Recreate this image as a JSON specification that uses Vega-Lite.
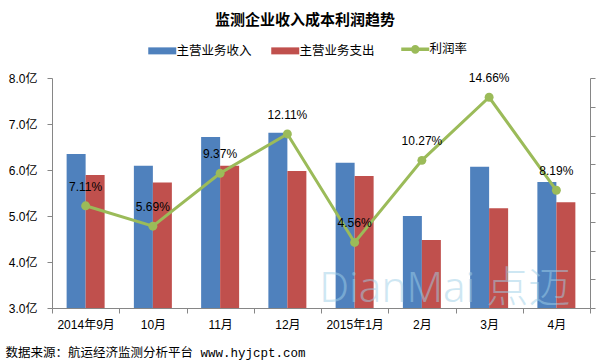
{
  "$schema": "https://vega.github.io/schema/vega-lite/v6.json",
  "width": 538,
  "height": 230,
  "autosize": {"type": "none"},
  "padding": {"left": 52, "top": 78, "right": 20, "bottom": 53},
  "background": "white",
  "config": {
    "view": {"stroke": null},
    "font": "Liberation Sans, Noto Sans CJK SC"
  },
  "title": {
    "text": "监测企业收入成本利润趋势",
    "font": "Noto Sans CJK SC",
    "fontSize": 15,
    "fontWeight": "bold",
    "color": "#000000",
    "anchor": "middle",
    "frame": "group",
    "dx": -16,
    "offset": 15
  },
  "datasets": {
    "bars": [
      {"month": "2014年9月", "series": "主营业务收入", "value": 6.35},
      {"month": "2014年9月", "series": "主营业务支出", "value": 5.89},
      {"month": "10月", "series": "主营业务收入", "value": 6.09},
      {"month": "10月", "series": "主营业务支出", "value": 5.73},
      {"month": "11月", "series": "主营业务收入", "value": 6.72},
      {"month": "11月", "series": "主营业务支出", "value": 6.09},
      {"month": "12月", "series": "主营业务收入", "value": 6.81},
      {"month": "12月", "series": "主营业务支出", "value": 5.98},
      {"month": "2015年1月", "series": "主营业务收入", "value": 6.16},
      {"month": "2015年1月", "series": "主营业务支出", "value": 5.87},
      {"month": "2月", "series": "主营业务收入", "value": 5.0},
      {"month": "2月", "series": "主营业务支出", "value": 4.48},
      {"month": "3月", "series": "主营业务收入", "value": 6.07},
      {"month": "3月", "series": "主营业务支出", "value": 5.17},
      {"month": "4月", "series": "主营业务收入", "value": 5.74},
      {"month": "4月", "series": "主营业务支出", "value": 5.3}
    ],
    "rate": [
      {"month": "2014年9月", "rate": 7.11, "label": "7.11%"},
      {"month": "10月", "rate": 5.69, "label": "5.69%"},
      {"month": "11月", "rate": 9.37, "label": "9.37%"},
      {"month": "12月", "rate": 12.11, "label": "12.11%"},
      {"month": "2015年1月", "rate": 4.56, "label": "4.56%"},
      {"month": "2月", "rate": 10.27, "label": "10.27%"},
      {"month": "3月", "rate": 14.66, "label": "14.66%"},
      {"month": "4月", "rate": 8.19, "label": "8.19%"}
    ]
  },
  "encoding": {
    "x": {
      "field": "month",
      "type": "nominal",
      "scale": {
        "domain": ["2014年9月", "10月", "11月", "12月", "2015年1月", "2月", "3月", "4月"],
        "paddingInner": 0,
        "paddingOuter": 0
      },
      "axis": {
        "title": "数据来源：航运经济监测分析平台 www.hyjcpt.com",
        "titleFont": "Liberation Mono, Noto Sans CJK SC",
        "titleFontSize": 12.5,
        "titleFontWeight": "normal",
        "titleColor": "#000000",
        "titleAnchor": "start",
        "titleAlign": "left",
        "titleBaseline": "middle",
        "titleX": -47,
        "titleY": 44,
        "labelAngle": 0,
        "labelFont": "Liberation Sans, Noto Sans CJK SC",
        "labelFontSize": 12,
        "labelColor": "#000000",
        "labelPadding": 6,
        "tickBand": "extent",
        "tickSize": 5,
        "tickColor": "#868686",
        "domainColor": "#868686",
        "grid": false
      }
    }
  },
  "layer": [
    {
      "layer": [
        {
          "data": {"name": "bars"},
          "mark": {"type": "bar"},
          "encoding": {
            "xOffset": {
              "field": "series",
              "type": "nominal",
              "sort": ["主营业务收入", "主营业务支出"],
              "scale": {"paddingInner": 0, "paddingOuter": 0.77}
            },
            "y": {
              "field": "value",
              "type": "quantitative",
              "scale": {"domain": [3, 8], "zero": false, "nice": false},
              "axis": {
                "title": null,
                "values": [3, 4, 5, 6, 7, 8],
                "labelExpr": "format(datum.value, '.1f') + '亿'",
                "labelFont": "Liberation Sans, Noto Sans CJK SC",
                "labelFontSize": 12,
                "labelColor": "#000000",
                "labelPadding": 10,
                "tickSize": 5,
                "tickColor": "#868686",
                "domainColor": "#868686",
                "grid": false
              }
            },
            "y2": {"datum": 3},
            "color": {
              "field": "series",
              "type": "nominal",
              "scale": {
                "domain": ["主营业务收入", "主营业务支出", "利润率"],
                "range": ["#4F81BD", "#C0504D", "#9BBB59"]
              },
              "legend": {
                "title": null,
                "orient": "none",
                "direction": "horizontal",
                "legendX": 104,
                "legendY": -35,
                "symbolSize": 784,
                "labelFont": "Noto Sans CJK SC",
                "labelFontSize": 12.5,
                "labelColor": "#000000",
                "labelOffset": 8,
                "columnPadding": 19,
                "encode": {
                  "symbols": {
                    "update": {
                      "shape": {"signal": "datum.value === '利润率' ? 'M-1,0H1M-0.18,0A0.18,0.18 0 1 1 0.18,0A0.18,0.18 0 1 1 -0.18,0Z' : 'M-1,-0.25H1V0.25H-1Z'"},
                      "fill": {"signal": "datum.value === '利润率' ? '#9BBB59' : datum.value === '主营业务收入' ? '#4F81BD' : '#C0504D'"},
                      "stroke": {"signal": "datum.value === '利润率' ? '#9BBB59' : datum.value === '主营业务收入' ? '#4F81BD' : '#C0504D'"},
                      "strokeWidth": {"signal": "datum.value === '利润率' ? 3.5 : 0"},
                      "opacity": {"value": 1}
                    }
                  }
                }
              }
            }
          }
        },
        {
          "data": {"values": [{"t": "DianMai 点迈"}]},
          "mark": {
            "type": "text",
            "font": "Noto Sans, Noto Sans CJK SC",
            "fontSize": 42,
            "fontWeight": 300,
            "align": "center",
            "baseline": "alphabetic",
            "fill": "#9fd0e8",
            "opacity": 0.5
          },
          "encoding": {
            "x": {"datum": "2月", "bandPosition": 0.84},
            "y": {"datum": 3.13},
            "text": {"field": "t"}
          }
        }
      ]
    },
    {
      "data": {"name": "rate"},
      "encoding": {
        "y": {
          "field": "rate",
          "type": "quantitative",
          "scale": {"domain": [0, 16], "nice": false},
          "axis": {
            "orient": "right",
            "title": null,
            "values": [0, 2, 4, 6, 8, 10, 12, 14, 16],
            "labels": false,
            "tickSize": 5,
            "tickColor": "#868686",
            "domainColor": "#868686",
            "grid": false
          }
        }
      },
      "layer": [
        {
          "mark": {
            "type": "line",
            "strokeWidth": 3,
            "point": {"filled": true, "size": 80}
          },
          "encoding": {
            "color": {"datum": "利润率"}
          }
        },
        {
          "mark": {
            "type": "text",
            "dy": -19,
            "font": "Liberation Sans",
            "fontSize": 12,
            "fill": "#000000"
          },
          "encoding": {
            "text": {"field": "label"}
          }
        }
      ]
    }
  ],
  "resolve": {"scale": {"y": "independent"}}
}
